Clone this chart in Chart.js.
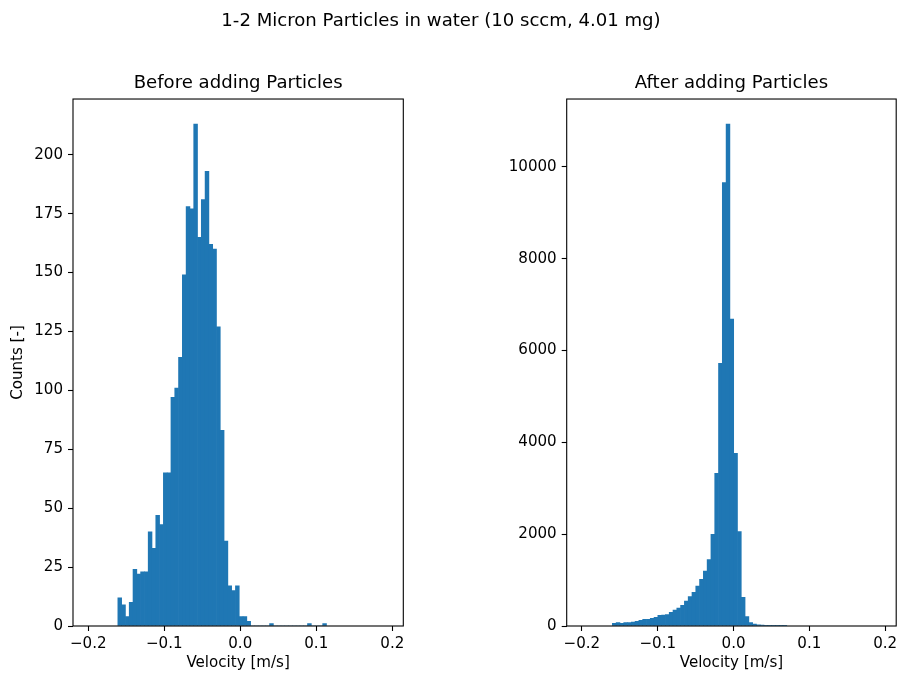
<!DOCTYPE html>
<html>
<head>
<meta charset="utf-8">
<script src="https://cdn.jsdelivr.net/npm/chart.js@4.4.1/dist/chart.umd.min.js"></script>
<style>
  html, body { margin: 0; padding: 0; background: #fff; }
  #fig { position: relative; width: 897px; height: 675px; overflow: hidden; }
  .panel { position: absolute; top: 0; }
  #suptitle {
    position: absolute; top: 9px; left: 0; width: 882px;
    text-align: center; line-height: 22px; color: #000;
    font: 18.1px 'DejaVu Sans', sans-serif;
  }
</style>
</head>
<body>
<div id="fig">
  <canvas id="before" class="panel" style="left:0" width="420" height="675"></canvas>
  <canvas id="after" class="panel" style="left:490px" width="407" height="675"></canvas>
  <div id="suptitle">1-2 Micron Particles in water (10 sccm, 4.01 mg)</div>
</div>
<script>
// shared x axis (velocity, m/s)
const xMin = -0.2200, xMax = 0.2145;
const xTicks = [-0.2, -0.1, 0.0, 0.1, 0.2];
const xTickLabels = ['\u22120.2', '\u22120.1', '0.0', '0.1', '0.2'];

// before adding particles: 55 bins
const beforeBinStart = -0.161;
const beforeBinWidth = 0.00499;
const beforeCounts = [
  12, 9, 4, 10, 24, 22, 23, 23, 40, 33,
  47, 43, 65, 65, 97, 101, 114, 149, 178, 177,
  213, 165, 181, 193, 162, 160, 127, 83, 36, 17,
  15, 17, 4, 4, 2, 0, 0, 0, 0, 0,
  1, 0, 0, 0, 0, 0, 0, 0, 0, 0,
  1, 0, 0, 0, 1
];
const beforeYTicks = [0, 25, 50, 75, 100, 125, 150, 175, 200];

// after adding particles: 46 bins
const afterBinStart = -0.1598;
const afterBinWidth = 0.005;
const afterCounts = [
  59, 72, 59, 72, 75, 85, 102, 124, 146, 146,
  168, 190, 235, 240, 250, 298, 349, 392, 451, 545,
  639, 734, 871, 1017, 1198, 1445, 1998, 3326, 5723, 9658,
  10930, 6682, 3762, 2055, 625, 203, 72, 44, 25, 20,
  15, 12, 8, 6, 4, 3
];
const afterYTicks = [0, 2000, 4000, 6000, 8000, 10000];

Chart.defaults.font.family = "'DejaVu Sans', sans-serif";
Chart.defaults.font.size = 15.1;
Chart.defaults.color = '#000';

// matplotlib draws all four spines, chart.js only two
const framePlugin = {
  id: 'frame',
  afterDraw(chart) {
    const { ctx, chartArea: a } = chart;
    ctx.save();
    ctx.strokeStyle = '#000';
    ctx.lineWidth = 1.1;
    ctx.strokeRect(a.left, a.top, a.right - a.left, a.bottom - a.top);
    ctx.restore();
  }
};

function makePanel(id, title, counts, binStart, binWidth, yTicks, yLabel, yAxisWidth, padRight) {
  const points = counts.map((c, i) => ({ x: binStart + (i + 0.5) * binWidth, y: c }));
  const tickGrid = {
    display: true, drawOnChartArea: false, drawTicks: true, offset: false,
    tickLength: 5, tickColor: '#000', tickWidth: 1.1
  };
  return new Chart(document.getElementById(id), {
    type: 'bar',
    data: {
      datasets: [{
        data: points,
        backgroundColor: '#1f77b4',
        borderWidth: 0,
        barPercentage: 1,
        categoryPercentage: 1
      }]
    },
    options: {
      responsive: false,
      animation: false,
      layout: { padding: { left: 0, right: padRight, top: 0, bottom: 0 } },
      plugins: {
        legend: { display: false },
        tooltip: { enabled: false },
        title: {
          display: true, text: title, fullSize: false, color: '#000',
          font: { size: 18.1, weight: 'normal' },
          padding: { top: 72, bottom: 5.3 }
        }
      },
      scales: {
        x: {
          type: 'linear', min: xMin, max: xMax, offset: false,
          afterBuildTicks: s => { s.ticks = xTicks.map(v => ({ value: v })); },
          afterFit: s => { s.height = 49; s.paddingLeft = 0; s.paddingRight = 0; },
          grid: tickGrid,
          border: { display: false },
          ticks: { padding: 4.5, maxRotation: 0, autoSkip: false, callback: (v, i) => xTickLabels[i] },
          title: { display: true, text: 'Velocity [m/s]', padding: { top: 0, bottom: 2.9 } }
        },
        y: {
          type: 'linear', min: 0, max: Math.max(...counts) * 1.05,
          afterBuildTicks: s => { s.ticks = yTicks.map(v => ({ value: v })); },
          afterFit: s => { s.width = yAxisWidth; s.paddingTop = 0; s.paddingBottom = 0; },
          grid: tickGrid,
          border: { display: false },
          ticks: { padding: 5, callback: v => String(v) },
          title: { display: !!yLabel, text: yLabel, padding: { top: 9.4, bottom: 0 } }
        }
      }
    },
    plugins: [framePlugin]
  });
}

makePanel('before', 'Before adding Particles', beforeCounts, beforeBinStart, beforeBinWidth,
  beforeYTicks, 'Counts [-]', 73, 16.7);
makePanel('after', 'After adding Particles', afterCounts, afterBinStart, afterBinWidth,
  afterYTicks, '', 76.7, 0.8);
</script>
</body>
</html>
